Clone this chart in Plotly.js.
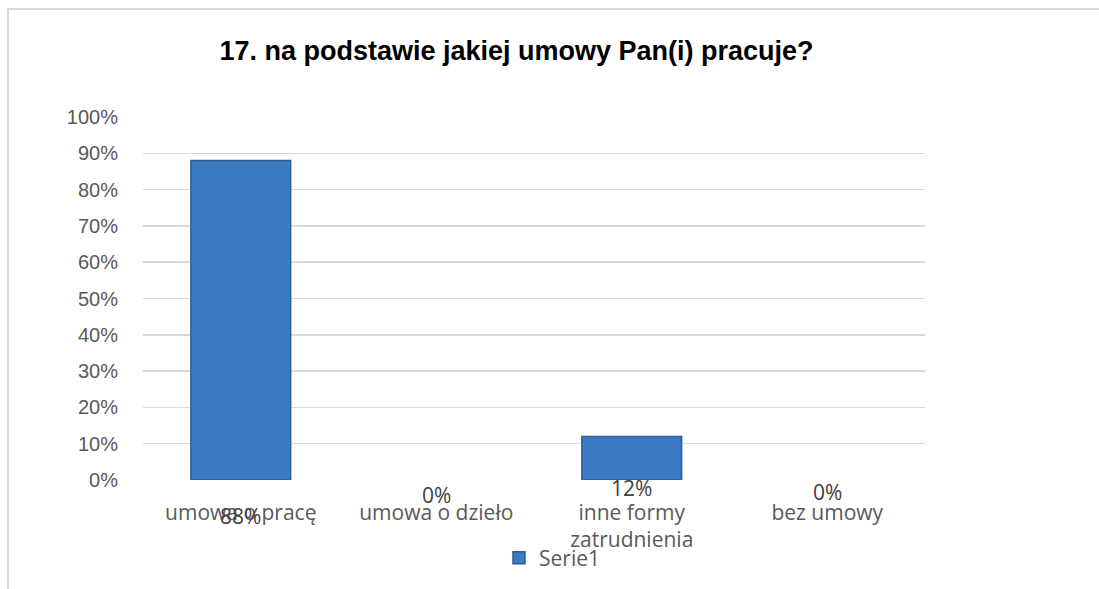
<!DOCTYPE html>
<html><head><meta charset="utf-8">
<script src="https://cdn.plot.ly/plotly-3.0.1.min.js"></script>
<style>
html,body{margin:0;padding:0;background:#fff;}
#chart{width:1099px;height:589px;position:relative;}
#frame{position:absolute;left:7px;top:8px;width:1092px;height:581px;border-top:2px solid #d9d9d9;border-left:2px solid #d9d9d9;pointer-events:none;box-sizing:border-box;}
</style></head>
<body>
<div id="chart"></div>
<div id="frame"></div>
<script>
const categories = ["umowa o pracę", "umowa o dzieło", "inne formy<br>zatrudnienia", "bez umowy"];
const values = [0.88, 0.00, 0.12, 0.00];
const seriesName = "Serie1";
const yTickVals = [0,0.1,0.2,0.3,0.4,0.5,0.6,0.7,0.8,0.9,1.0];
const yTickText = ["0%","10%","20%","30%","40%","50%","60%","70%","80%","90%","100%"];
const titleText = "17. na podstawie jakiej umowy Pan(i) pracuje?";

const labelShift = [-36, -15, -8, -12];
const annotations = values.map((v, i) => ({
  x: categories[i], y: 0, xref: 'x', yref: 'y',
  text: Math.round(v*100) + '%', showarrow: false,
  yshift: labelShift[i], yanchor: 'middle',
  font: {family: 'Open Sans, sans-serif', size: 21, color: '#404040'}
}));

const trace = {
  type: 'bar', x: categories, y: values, name: seriesName,
  width: 0.51,
  marker: {color: '#3b7bc4', line: {color: '#2a5c96', width: values.map(v => v > 0 ? 1.5 : 0)}},
  showlegend: true, hoverinfo: 'none'
};

const layout = {
  width: 1099, height: 589,
  margin: {l: 143, r: 174, t: 117, b: 108},
  paper_bgcolor: '#ffffff', plot_bgcolor: '#ffffff',
  title: {text: '<b>' + titleText + '</b>', x: 0.47, xanchor: 'center', y: 0.915, yanchor: 'middle',
    font: {family: 'Liberation Sans, Arial, sans-serif', size: 27, color: '#000000'}},
  xaxis: {type: 'category', showgrid: false, zeroline: false, showline: false,
    ticks: '', ticklabelstandoff: 18,
    tickfont: {family: 'Open Sans, sans-serif', size: 21, color: '#595959'}},
  yaxis: {range: [0, 1], tickvals: yTickVals, ticktext: yTickText,
    showgrid: true, gridcolor: '#d9d9d9', gridwidth: 1.5, zeroline: false, showline: false,
    ticks: '', ticklabelstandoff: 24,
    tickfont: {family: 'Liberation Sans, Arial, sans-serif', size: 20, color: '#595959'}},
  showlegend: true,
  legend: {orientation: 'h', x: 0.523, xanchor: 'center', y: -0.212, yanchor: 'middle',
    bgcolor: 'rgba(0,0,0,0)',
    font: {family: 'Open Sans, sans-serif', size: 21, color: '#595959'}, itemwidth: 30},
  annotations: annotations,
  bargap: 0.49
};

Plotly.newPlot('chart', [trace], layout, {displayModeBar: false, staticPlot: true});
</script>
</body></html>
